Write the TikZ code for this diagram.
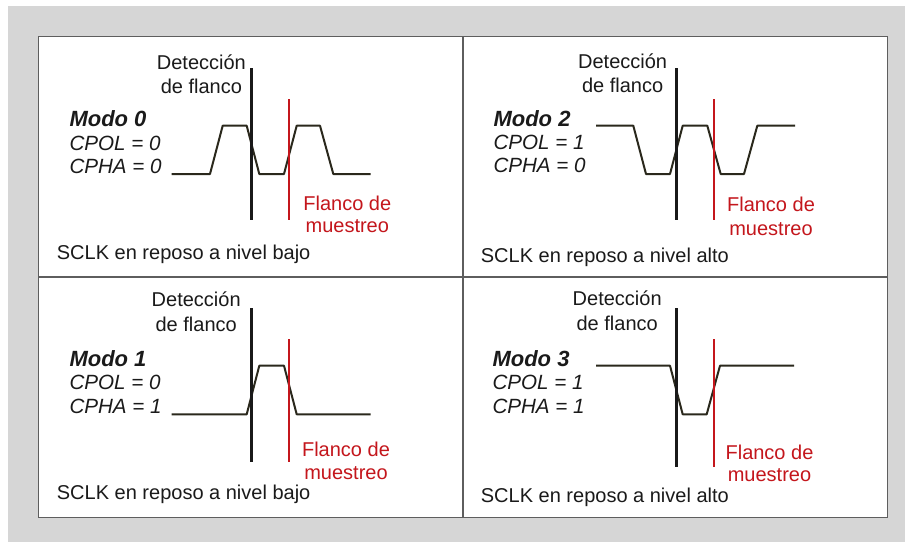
\documentclass[tikz,border=0pt]{standalone}
\usepackage{fontspec}
\setmainfont{Liberation Sans}
\definecolor{bgray}{HTML}{D6D6D6}
\definecolor{framec}{HTML}{5E5E5E}
\definecolor{wavec}{HTML}{2A281C}
\definecolor{textc}{HTML}{1A1A1A}
\definecolor{redc}{HTML}{C4161C}
\begin{document}
\begin{tikzpicture}[x=1pt,y=-1pt,
  txt/.style={inner sep=0pt, font=\fontsize{20}{24}\selectfont, text=textc},
  ctr/.style={txt, anchor=base},
  lft/.style={txt, anchor=base west},
  redtxt/.style={txt, anchor=base, text=redc},
  modo/.style={inner sep=0pt, anchor=base west, text=textc, font=\fontsize{22}{24}\selectfont\bfseries\itshape},
  par/.style={inner sep=0pt, anchor=base west, text=textc, font=\fontsize{20.6}{24}\selectfont\itshape},
  wave/.style={draw=wavec, line width=2pt, line join=round},
  edgeline/.style={draw=black!90, line width=3pt},
  sampline/.style={draw=redc, line width=2pt},
  frameline/.style={draw=framec, line width=1.5pt}]
\useasboundingbox (0,0) rectangle (905,542);
\fill[white] (0,0) rectangle (905,542);
\fill[bgray] (8,6) rectangle (905,542);
\fill[white] (38.5,36.5) rectangle (887.3,517.7);
\draw[frameline] (38.5,36.5) rectangle (887.3,517.7);
\draw[frameline] (463,36.5) -- (463,517.7);
\draw[frameline] (38.5,277) -- (887.3,277);

% ---------- Modo 0 ----------
\draw[wave] (171.7,174) -- (210,174) -- (222.7,125.7) -- (246.7,125.7) -- (259.3,174)
  -- (284,174) -- (296.7,125.7) -- (320,125.7) -- (333.3,174) -- (370.7,174);
\draw[edgeline] (251.7,68) -- (251.7,220);
\draw[sampline] (289.3,99) -- (289.3,220);
\node[ctr] (d0a) at (201.4,69.3) {Detección};
\node[ctr] (d0b) at (201.4,93.3) {de flanco};
\node[modo] (m0) at (69.3,126.7) {Modo 0};
\node[par] (p0a) at (69.3,150) {CPOL = 0};
\node[par] (p0b) at (69.3,173.3) {CPHA = 0};
\node[redtxt] (f0a) at (347.3,210) {Flanco de};
\node[redtxt] (f0b) at (347.3,232.7) {muestreo};
\node[lft] (s0) at (56.7,259.3) {SCLK en reposo a nivel bajo};

% ---------- Modo 2 ----------
\draw[wave] (596,125.7) -- (633.3,125.7) -- (646,174) -- (670,174) -- (682.7,125.7)
  -- (707.3,125.7) -- (720.7,174) -- (744,174) -- (757.3,125.7) -- (795,125.7);
\draw[edgeline] (676,68) -- (676,220);
\draw[sampline] (714,99) -- (714,220);
\node[ctr] (d2a) at (622.6,68.3) {Detección};
\node[ctr] (d2b) at (622.6,92.3) {de flanco};
\node[modo] (m2) at (493.3,126) {Modo 2};
\node[par] (p2a) at (493.3,149.3) {CPOL = 1};
\node[par] (p2b) at (493.3,172.7) {CPHA = 0};
\node[redtxt] (f2a) at (771,211.7) {Flanco de};
\node[redtxt] (f2b) at (771,235) {muestreo};
\node[lft] (s2) at (480.7,262.7) {SCLK en reposo a nivel alto};

% ---------- Modo 1 ----------
\draw[wave] (171.7,414.3) -- (246.7,414.3) -- (259.3,365.7) -- (284,365.7) -- (296.7,414.3) -- (370.7,414.3);
\draw[edgeline] (251.7,308.3) -- (251.7,461.7);
\draw[sampline] (289.3,339) -- (289.3,461.7);
\node[ctr] (d1a) at (196.2,306.7) {Detección};
\node[ctr] (d1b) at (196.2,331) {de flanco};
\node[modo] (m1) at (69.3,366) {Modo 1};
\node[par] (p1a) at (69.3,389.3) {CPOL = 0};
\node[par] (p1b) at (69.3,413.3) {CPHA = 1};
\node[redtxt] (f1a) at (346,456) {Flanco de};
\node[redtxt] (f1b) at (346,479.3) {muestreo};
\node[lft] (s1) at (56.7,499.3) {SCLK en reposo a nivel bajo};

% ---------- Modo 3 ----------
\draw[wave] (596,365.7) -- (670,365.7) -- (682.7,414.3) -- (706.7,414.3) -- (720,365.7) -- (794,365.7);
\draw[edgeline] (676,308.3) -- (676,466.7);
\draw[sampline] (714,339) -- (714,466.7);
\node[ctr] (d3a) at (617.2,305.7) {Detección};
\node[ctr] (d3b) at (617.2,330) {de flanco};
\node[modo] (m3) at (492.3,366.7) {Modo 3};
\node[par] (p3a) at (492.3,389.3) {CPOL = 1};
\node[par] (p3b) at (492.3,413.3) {CPHA = 1};
\node[redtxt] (f3a) at (769.5,459) {Flanco de};
\node[redtxt] (f3b) at (769.5,481.7) {muestreo};
\node[lft] (s3) at (480.7,502.7) {SCLK en reposo a nivel alto};
\end{tikzpicture}
\end{document}
